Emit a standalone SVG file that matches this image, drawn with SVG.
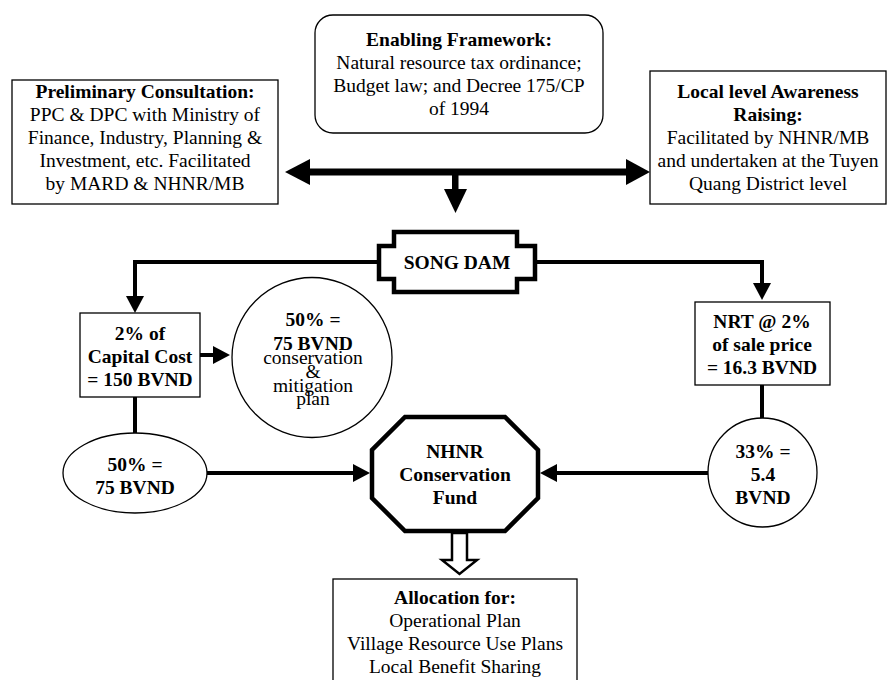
<svg xmlns="http://www.w3.org/2000/svg" width="887" height="680" viewBox="0 0 887 680">
<style>
text{font-family:"Liberation Serif","Times New Roman",serif;font-size:19.5px;fill:#000;text-anchor:middle}
.b{font-weight:bold}
.box{fill:#fff;stroke:#000;stroke-width:1.3}
.thick{fill:#fff;stroke:#000;stroke-width:4.5}
.con{fill:none;stroke:#000;stroke-width:4}
.big{fill:none;stroke:#000;stroke-width:7}
</style>
<defs>
<marker id="ah" markerUnits="userSpaceOnUse" markerWidth="17" markerHeight="18" refX="0" refY="9" orient="auto">
<path d="M0,0 L17,9 L0,18 Z" fill="#000"/>
</marker>
</defs>
<g id="connectors">
<line class="big" x1="307" y1="172" x2="628" y2="172"/>
<polygon points="285,172 310,159 310,185" fill="#000"/>
<polygon points="650,172 626,159 626,185" fill="#000"/>
<rect x="452" y="172" width="6.5" height="18" fill="#000"/>
<polygon points="444,189 467,189 455.5,213" fill="#000"/>
<path class="con" d="M379,262 H135 V296" marker-end="url(#ah)"/>
<path class="con" d="M535,262 H762 V283" marker-end="url(#ah)"/>
<path class="con" d="M200,355 H213" marker-end="url(#ah)"/>
<path class="con" d="M135,397 V433"/>
<path class="con" d="M207,473 H353" marker-end="url(#ah)"/>
<path class="con" d="M762,385 V418"/>
<path class="con" d="M708,473 H557" marker-end="url(#ah)"/>
<polygon points="452,533 467,533 467,560 477,560 459.5,574 442,560 452,560" fill="#fff" stroke="#000" stroke-width="2.5"/>
</g>
<g id="enabling">
<rect class="box" x="315" y="15" width="288" height="118" rx="18"/>
<text class="b" x="459" y="46">Enabling Framework:</text>
<text x="459" y="69">Natural resource tax ordinance;</text>
<text x="459" y="92">Budget law; and Decree 175/CP</text>
<text x="459" y="115">of 1994</text>
</g>
<g id="preliminary">
<rect class="box" x="12" y="80" width="266" height="124"/>
<text class="b" x="145" y="98">Preliminary Consultation:</text>
<text x="145" y="121">PPC &amp; DPC with Ministry of</text>
<text x="145" y="144">Finance, Industry, Planning &amp;</text>
<text x="145" y="167">Investment, etc. Facilitated</text>
<text x="145" y="190">by MARD &amp; NHNR/MB</text>
</g>
<g id="awareness">
<rect class="box" x="650" y="71" width="236" height="133"/>
<text class="b" x="768" y="98">Local level Awareness</text>
<text class="b" x="768" y="121">Raising:</text>
<text x="768" y="144">Facilitated by NHNR/MB</text>
<text x="768" y="167">and undertaken at the Tuyen</text>
<text x="768" y="190">Quang District level</text>
</g>
<g id="songdam">
<path class="thick" d="M394,232 H517 V246 H535 V279 H517 V292 H394 V279 H379 V246 H394 Z"/>
<text class="b" x="457" y="269">SONG DAM</text>
</g>
<g id="capital">
<rect class="box" x="80" y="313" width="120" height="84"/>
<text class="b" x="140" y="340">2% of</text>
<text class="b" x="140" y="363">Capital Cost</text>
<text class="b" x="140" y="386">= 150 BVND</text>
</g>
<g id="conservation-plan">
<circle class="box" cx="312" cy="357.5" r="80"/>
<text class="b" x="313" y="326">50% =</text>
<text class="b" x="313" y="350">75 BVND</text>
<text x="313" y="364">conservation</text>
<text x="313" y="378">&amp;</text>
<text x="313" y="392">mitigation</text>
<text x="313" y="405">plan</text>
</g>
<g id="half">
<ellipse class="box" cx="135" cy="473" rx="72" ry="40"/>
<text class="b" x="135" y="471">50% =</text>
<text class="b" x="135" y="494">75 BVND</text>
</g>
<g id="nrt">
<rect class="box" x="695" y="302" width="135" height="83"/>
<text class="b" x="762" y="328">NRT @ 2%</text>
<text class="b" x="762" y="351">of sale price</text>
<text class="b" x="762" y="374">= 16.3 BVND</text>
</g>
<g id="third">
<circle class="box" cx="762.5" cy="472.5" r="54.5"/>
<text class="b" x="763" y="458">33% =</text>
<text class="b" x="763" y="481">5.4</text>
<text class="b" x="763" y="504">BVND</text>
</g>
<g id="fund">
<polygon class="thick" points="405,417 505,417 538,450 538,498 505,531 405,531 372,498 372,450"/>
<text class="b" x="455" y="458">NHNR</text>
<text class="b" x="455" y="481">Conservation</text>
<text class="b" x="455" y="504">Fund</text>
</g>
<g id="allocation">
<rect class="box" x="333" y="579" width="244" height="120"/>
<text class="b" x="455" y="604">Allocation for:</text>
<text x="455" y="627">Operational Plan</text>
<text x="455" y="650">Village Resource Use Plans</text>
<text x="455" y="673">Local Benefit Sharing</text>
</g>
</svg>
